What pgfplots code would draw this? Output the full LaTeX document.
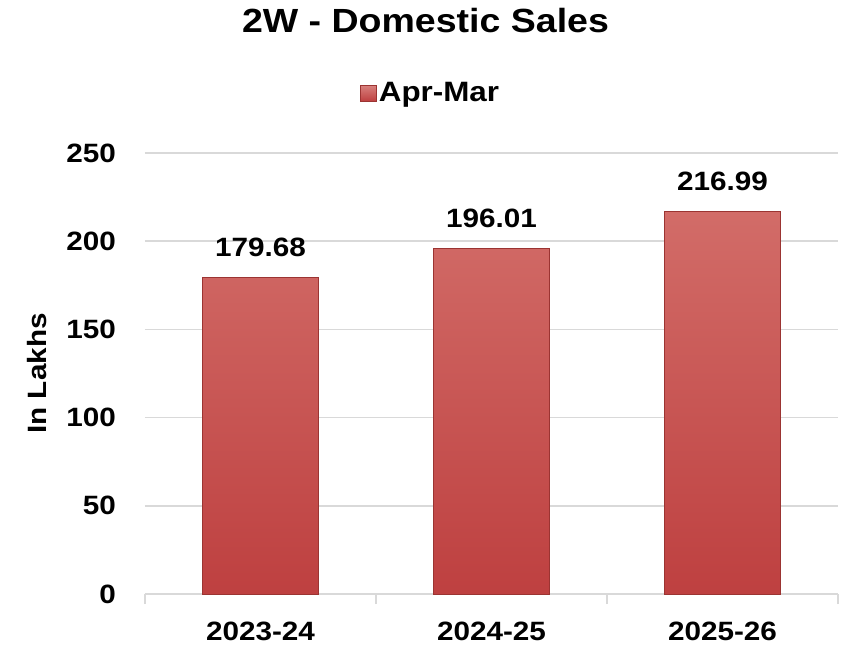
\documentclass[border=0pt]{standalone}
\usepackage{fontspec}
\setmainfont{Liberation Sans}[FakeStretch=1.12]
\usepackage{pgfplots}
\pgfplotsset{compat=1.18}
\definecolor{barTop}{RGB}{210,108,104}
\definecolor{barBot}{RGB}{190,64,64}
\definecolor{barEdge}{RGB}{155,52,50}
\definecolor{gridGray}{RGB}{217,217,217}
\newcommand{\lab}{\bfseries\fontsize{26.5}{26.5}\selectfont}
\begin{document}
\begin{tikzpicture}
\begin{axis}[
  scale only axis,
  width=693pt, height=441pt,
  xmin=-0.5, xmax=2.5,
  ymin=0, ymax=250,
  ytick={0,50,100,150,200,250},
  % tick marks sit between the categories, names on extra ticks
  xtick={-0.5,0.5,1.5,2.5},
  xticklabels={},
  x tick style={draw=gridGray, line width=1.5pt},
  xtick align=outside,
  major tick length=10pt,
  extra x ticks={0,1,2},
  extra x tick labels={2023-24,2024-25,2025-26},
  extra x tick style={major tick length=0pt, grid=none},
  axis x line*=bottom,
  axis y line*=left,
  y axis line style={draw=none},
  x axis line style={draw=gridGray, line width=1.5pt, -},
  major y tick style={draw=none},
  ymajorgrids,
  major grid style={draw=gridGray, line width=1.5pt},
  /pgf/number format/assume math mode=true,
  ticklabel style={font=\lab},
  yticklabel style={inner sep=0pt, anchor=east, xshift=-29pt},
  xticklabel style={inner sep=0pt, anchor=center, yshift=-37.5pt},
  ylabel={In Lakhs},
  ylabel style={font=\lab, at={(axis description cs:-0.156,0.5)}, anchor=center},
  title={2W - Domestic Sales},
  title style={font=\bfseries\fontsize{33.5}{33.5}\selectfont, at={(0.5,1)}, anchor=center, yshift=126pt, xshift=-66pt},
  legend style={at={(0.5,1)}, anchor=center, yshift=60pt, xshift=-61pt, draw=none, fill=none,
    inner sep=0pt, font=\bfseries\fontsize{28}{28}\selectfont,
    /tikz/every even column/.append style={column sep=0pt}},
  legend cell align=left,
  legend image code/.code={\draw[draw=barEdge, top color=barTop!85!white, bottom color=barBot] (0pt,-8pt) rectangle (16pt,8pt);},
  nodes near coords={\pgfmathprintnumber[fixed,fixed zerofill,precision=2]{\pgfplotspointmeta}},
  every node near coord/.append style={font=\lab, anchor=center, yshift=29.5pt, /pgf/number format/assume math mode=true},
  clip=false,
]
\addplot[ybar, bar width=0.5, draw=barEdge, line width=1pt, top color=barTop, bottom color=barBot]
  coordinates {(0,179.68) (1,196.01) (2,216.99)};
\addlegendentry{Apr-Mar}
\coordinate (o) at (rel axis cs:0,0);
\end{axis}
\pgfresetboundingbox
\path (o) ++(-145pt,-55pt) rectangle ++(842pt,649pt);
\end{tikzpicture}
\end{document}
